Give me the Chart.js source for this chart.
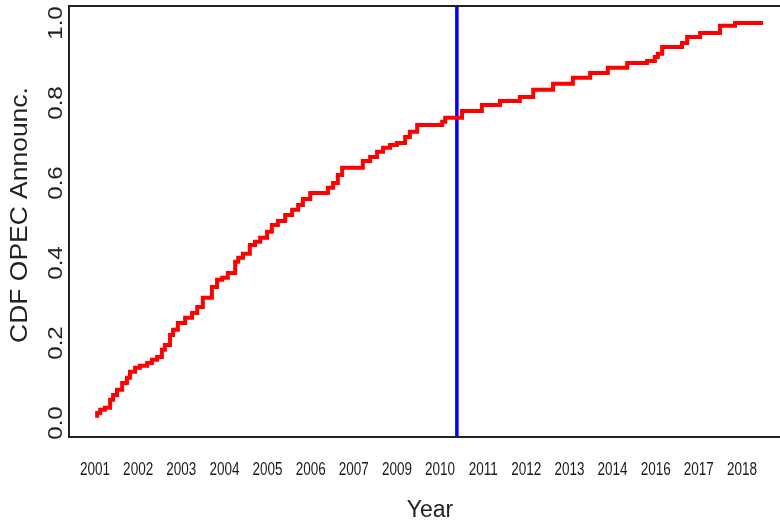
<!DOCTYPE html>
<html>
<head>
<meta charset="utf-8">
<script src="https://cdn.jsdelivr.net/npm/chart.js@4/dist/chart.umd.min.js"></script>
<style>
  html, body { margin: 0; padding: 0; background: #fff; }
  canvas { display: block; }
</style>
</head>
<body>
<canvas id="cdf" width="780" height="525"></canvas>
<script>
// x position is in label slots (2001 = 0, 2002 = 1, ...)
var yearLabels = ['2001', '2002', '2003', '2004', '2005', '2006', '2007', '2009',
  '2010', '2011', '2012', '2013', '2014', '2016', '2017', '2018'];

var stepX = [0.05, 0.12, 0.23, 0.35, 0.42, 0.51, 0.63, 0.74, 0.81, 0.93,
  1.04, 1.21, 1.32, 1.44, 1.55, 1.62, 1.74, 1.81, 1.92, 2.09,
  2.25, 2.37, 2.50, 2.71, 2.83, 2.95, 3.08, 3.25, 3.32, 3.43,
  3.59, 3.71, 3.83, 3.99, 4.10, 4.24, 4.41, 4.57, 4.71, 4.82,
  4.99, 5.40, 5.52, 5.63, 5.73, 6.21, 6.38, 6.54, 6.68, 6.84,
  7.00, 7.19, 7.30, 7.47, 8.05, 8.12, 8.51, 8.97, 9.39, 9.85,
  10.16, 10.62, 11.08, 11.48, 11.89, 12.34, 12.80, 12.98, 13.05, 13.15,
  13.61, 13.73, 14.03, 14.49, 14.84, 15.35, 15.49];

var stepY = [0.013, 0.025, 0.033, 0.038, 0.058, 0.070, 0.083, 0.100, 0.113, 0.128,
  0.138, 0.143, 0.150, 0.158, 0.165, 0.183, 0.195, 0.220, 0.233, 0.250,
  0.263, 0.275, 0.290, 0.313, 0.340, 0.358, 0.363, 0.375, 0.403, 0.413,
  0.423, 0.445, 0.453, 0.463, 0.478, 0.495, 0.505, 0.520, 0.533, 0.545,
  0.560, 0.575, 0.588, 0.600, 0.620, 0.638, 0.655, 0.665, 0.678, 0.688,
  0.695, 0.700, 0.715, 0.728, 0.745, 0.753, 0.763, 0.780, 0.795, 0.805,
  0.815, 0.833, 0.848, 0.863, 0.875, 0.888, 0.900, 0.905, 0.915, 0.923,
  0.940, 0.950, 0.965, 0.975, 0.993, 1.000, 1.000];

var cutoffX = 8.39;   // blue vertical marker (mid 2010)
var yTicks = [0, 0.2, 0.4, 0.6, 0.8, 1.0];

var X_MIN = -0.603, X_MAX = 15.882;
var Y_MIN = -0.035, Y_MAX = 1.0425;

var cdfPoints = stepX.map(function (x, i) { return { x: x, y: stepY[i] }; });

// frame + all the text, drawn R style
var rStyle = {
  id: 'rStyle',
  afterDraw: function (chart) {
    var c = chart.ctx, a = chart.chartArea;
    var xs = chart.scales.x, ys = chart.scales.y;
    c.save();
    c.strokeStyle = '#222';
    c.lineWidth = 2;
    c.beginPath();
    c.moveTo(a.right + 2, a.top);
    c.lineTo(a.left, a.top);
    c.lineTo(a.left, a.bottom);
    c.lineTo(a.right + 2, a.bottom);
    c.stroke();

    c.fillStyle = '#222';
    c.textAlign = 'center';
    c.textBaseline = 'middle';

    // y tick labels, rotated
    c.font = '21px "Liberation Sans", Arial, sans-serif';
    yTicks.forEach(function (v) {
      c.save();
      c.translate(55, ys.getPixelForValue(v));
      c.rotate(-Math.PI / 2);
      c.scale(1.15, 1);
      c.fillText(v.toFixed(1), 0, 1);
      c.restore();
    });

    // y title
    c.save();
    c.font = '23px "Liberation Sans", Arial, sans-serif';
    c.translate(21, 215);
    c.rotate(-Math.PI / 2);
    c.scale(1.15, 1);
    c.fillText('CDF OPEC Announc.', 0, 0);
    c.restore();

    // x tick labels, squeezed
    c.fillStyle = '#1a1a1a';
    c.font = '18px "Liberation Sans", Arial, sans-serif';
    yearLabels.forEach(function (lab, i) {
      c.save();
      c.translate(xs.getPixelForValue(i), 470);
      c.scale(0.75, 1);
      c.fillText(lab, 0, 0);
      c.restore();
    });

    // x title
    c.fillStyle = '#222';
    c.font = '23px "Liberation Sans", Arial, sans-serif';
    c.fillText('Year', 430, 511);
    c.restore();
  }
};

var ctx_cdf = document.getElementById('cdf');
var cdfChart = new Chart(ctx_cdf, {
  type: 'line',
  data: {
    datasets: [
      {
        label: 'CDF',
        data: cdfPoints,
        stepped: 'after',
        borderColor: '#ff0000',
        borderWidth: 4,
        pointRadius: 0,
        fill: false
      },
      {
        label: 'cutoff',
        data: [{ x: cutoffX, y: Y_MIN }, { x: cutoffX, y: Y_MAX }],
        borderColor: '#0000ff',
        borderWidth: 3.5,
        pointRadius: 0,
        fill: false
      }
    ]
  },
  options: {
    responsive: false,
    animation: false,
    layout: { padding: { top: 6, right: 0, left: 0, bottom: 0 } },
    plugins: {
      legend: { display: false },
      tooltip: { enabled: false }
    },
    scales: {
      x: {
        type: 'linear',
        min: X_MIN,
        max: X_MAX,
        grid: { display: false },
        border: { display: false },
        ticks: { display: false },
        afterFit: function (scale) { scale.height = 88; }
      },
      y: {
        type: 'linear',
        min: Y_MIN,
        max: Y_MAX,
        grid: { display: false },
        border: { display: false },
        ticks: { display: false },
        afterFit: function (scale) { scale.width = 69; }
      }
    }
  },
  plugins: [rStyle]
});
</script>
</body>
</html>
